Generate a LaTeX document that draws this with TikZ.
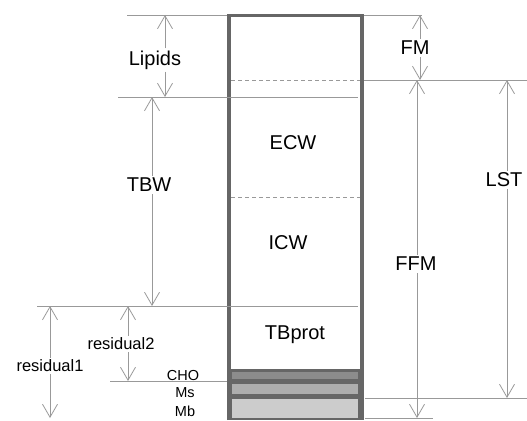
\documentclass[tikz,border=0pt]{standalone}
\usepackage{fontspec}
\setmainfont{Liberation Sans}
\usetikzlibrary{arrows.meta}
\definecolor{linie}{gray}{0.6}
\definecolor{rand}{gray}{0.4}
\definecolor{cho}{gray}{0.55}
\definecolor{ms}{gray}{0.68}
\definecolor{mb}{gray}{0.8}
\tikzset{
  mass/.style={draw=linie, line width=0.8pt, -{Straight Barb[length=13pt,width=15pt]}},
  hilf/.style={draw=linie, line width=0.8pt},
  strich/.style={draw=linie, line width=0.8pt, dash pattern=on 4pt off 3pt},
  gross/.style={font=\fontsize{20}{24}\selectfont, inner sep=2pt},
  klein/.style={font=\fontsize{16.5}{19}\selectfont, inner sep=2pt},
  mini/.style={font=\fontsize{14.5}{17}\selectfont, inner sep=0pt},
}
\begin{document}
\begin{tikzpicture}[x=1pt,y=-1pt]
\useasboundingbox (0,0) rectangle (527,420);
% Saeule
\fill[rand] (227.5,369) rectangle (363.5,420); % unterer Block
\fill[cho] (232,372) rectangle (358,379); % CHO
\fill[ms] (232,384) rectangle (358,394); % Ms
\fill[mb] (232,399) rectangle (358,418); % Mb
\draw[rand, line width=3.5pt] (229,420) -- (229,15.5) -- (362,15.5) -- (362,420);
% Hilfslinien links:
\draw[hilf] (127,15) -- (227,15);
\draw[hilf] (118,97) -- (358,97);
\draw[hilf] (37,306) -- (358,306);
\draw[hilf] (110,381) -- (227,381);
% Hilfslinien rechts:
\draw[hilf] (364,15) -- (422,15);
\draw[hilf] (364,80) -- (527,80);
\draw[hilf] (365,398) -- (527,398);
\draw[hilf] (365,418) -- (433,418);
% gestrichelt innen:
\draw[strich] (231,80) -- (360,80);
\draw[strich] (231,197) -- (360,197);
% Endpunkte
\coordinate (lipA) at (165,15);  \coordinate (lipB) at (165,97);
\coordinate (tbwA) at (152,97);  \coordinate (tbwB) at (152,306);
\coordinate (resIIA) at (128,306); \coordinate (resIIB) at (128,381);
\coordinate (resIA) at (50,306); \coordinate (resIB) at (50,418);
\coordinate (fmA) at (420,15);   \coordinate (fmB) at (420,80);
\coordinate (ffmA) at (417,80);  \coordinate (ffmB) at (417,418);
\coordinate (lstA) at (507,80);  \coordinate (lstB) at (507,398);
% Beschriftungen
\node[gross] (lipids) at (155,60) {Lipids};
\node[gross] (tbw) at (149,185) {TBW};
\node[klein] (res2) at (121,344) {residual2};
\node[klein] (res1) at (50,366) {residual1};
\node[gross] (fm) at (415,48) {FM};
\node[gross] (ffm) at (416,264) {FFM};
\node[gross] (lst) at (504,180) {LST};
\node[gross] (ecw) at (293,143) {ECW};
\node[gross] (icw) at (288,243) {ICW};
\node[gross] (tbprot) at (295,335) {TBprot};
\node[mini] (choL) at (183,376) {CHO};
\node[mini] (msL) at (185,393) {Ms};
\node[mini] (mbL) at (185,411) {Mb};
% Pfeile
\draw[mass] (lipids.north -| lipA) -- (lipA);
\draw[mass] (lipids.south -| lipB) -- (lipB);
\draw[mass] (tbw.north -| tbwA) -- (tbwA);
\draw[mass] (tbw.south -| tbwB) -- (tbwB);
\draw[mass] (res2.north -| resIIA) -- (resIIA);
\draw[mass] (res2.south -| resIIB) -- (resIIB);
\draw[mass] (res1.north -| resIA) -- (resIA);
\draw[mass] (res1.south -| resIB) -- (resIB);
\draw[mass] (fm.north -| fmA) -- (fmA);
\draw[mass] (fm.south -| fmB) -- (fmB);
\draw[mass] (ffm.north -| ffmA) -- (ffmA);
\draw[mass] (ffm.south -| ffmB) -- (ffmB);
\draw[mass] (lst.north -| lstA) -- (lstA);
\draw[mass] (lst.south -| lstB) -- (lstB);
\end{tikzpicture}
\end{document}
